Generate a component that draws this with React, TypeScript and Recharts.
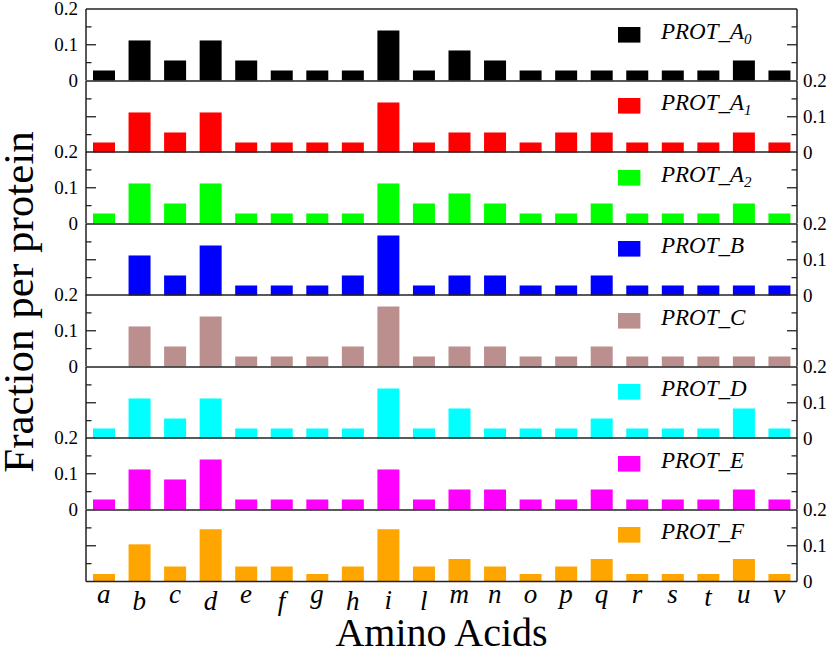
import React from 'react';
import { ComposedChart, Bar, Line, XAxis, YAxis, Legend, ReferenceLine } from 'recharts';

// amino acid categories (x axis)
const aminoAcids = ['a', 'b', 'c', 'd', 'e', 'f', 'g', 'h', 'i', 'l', 'm', 'n', 'o', 'p', 'q', 'r', 's', 't', 'u', 'v'];

// fraction per protein, one list per panel
const protA0 = [0.028, 0.112, 0.056, 0.112, 0.056, 0.028, 0.028, 0.028, 0.14, 0.028, 0.084, 0.056, 0.028, 0.028, 0.028, 0.028, 0.028, 0.028, 0.056, 0.028];
const protA1 = [0.028, 0.112, 0.056, 0.112, 0.028, 0.028, 0.028, 0.028, 0.14, 0.028, 0.056, 0.056, 0.028, 0.056, 0.056, 0.028, 0.028, 0.028, 0.056, 0.028];
const protA2 = [0.028, 0.112, 0.056, 0.112, 0.028, 0.028, 0.028, 0.028, 0.112, 0.056, 0.084, 0.056, 0.028, 0.028, 0.056, 0.028, 0.028, 0.028, 0.056, 0.028];
const protB = [0, 0.112, 0.056, 0.14, 0.028, 0.028, 0.028, 0.056, 0.168, 0.028, 0.056, 0.056, 0.028, 0.028, 0.056, 0.028, 0.028, 0.028, 0.028, 0.028];
const protC = [0, 0.112, 0.056, 0.14, 0.028, 0.028, 0.028, 0.056, 0.168, 0.028, 0.056, 0.056, 0.028, 0.028, 0.056, 0.028, 0.028, 0.028, 0.028, 0.028];
const protD = [0.028, 0.112, 0.056, 0.112, 0.028, 0.028, 0.028, 0.028, 0.14, 0.028, 0.084, 0.028, 0.028, 0.028, 0.056, 0.028, 0.028, 0.028, 0.084, 0.028];
const protE = [0.028, 0.112, 0.084, 0.14, 0.028, 0.028, 0.028, 0.028, 0.112, 0.028, 0.056, 0.056, 0.028, 0.028, 0.056, 0.028, 0.028, 0.028, 0.056, 0.028];
const protF = [0.021, 0.104, 0.042, 0.146, 0.042, 0.042, 0.021, 0.042, 0.146, 0.042, 0.063, 0.042, 0.021, 0.042, 0.063, 0.021, 0.021, 0.021, 0.063, 0.021];

const seriesValues = [protA0, protA1, protA2, protB, protC, protD, protE, protF];
const seriesNames = ['PROT_A', 'PROT_A', 'PROT_A', 'PROT_B', 'PROT_C', 'PROT_D', 'PROT_E', 'PROT_F'];
const seriesSubs = ['0', '1', '2', '', '', '', '', ''];
const seriesColors = ['#000000', '#ff0000', '#00ff00', '#0000ff', '#bc8f8f', '#00ffff', '#ff00ff', '#ffa500'];

const yTicks = [0, 0.05, 0.1, 0.15, 0.2];

const FONT = '"Liberation Serif", "Times New Roman", serif';
const AXIS = '#222';
const PANEL_TOP = 9;
const PANEL_H = 71.5;
const PAD = 12;

const data = aminoAcids.map((aa, i) => {
  const row: Record<string, any> = { aa };
  seriesValues.forEach((vals, k) => {
    row['s' + k] = vals[i];
  });
  return row;
});

function YTick(props: any) {
  const { x, y, payload, side, showLabel } = props;
  const v = payload.value;
  const dir = side === 'left' ? 1 : -1;
  const isLabelTick = Math.abs(v * 10 - Math.round(v * 10)) < 1e-9;
  const len = v === 0 || v === 0.2 ? 0 : isLabelTick ? 10 : 5.5;
  return (
    <g>
      {len > 0 && <line x1={x} x2={x + dir * len} y1={y} y2={y} stroke={AXIS} strokeWidth={1.3} />}
      {showLabel && isLabelTick && (
        <text
          x={side === 'left' ? x - 8 : x + 6}
          y={y}
          dy="0.34em"
          textAnchor={side === 'left' ? 'end' : 'start'}
          style={{ fontFamily: FONT, fontSize: 19 }}
          fill="#000"
        >
          {v === 0 ? '0' : v.toFixed(1)}
        </text>
      )}
    </g>
  );
}

function XTick(props: any) {
  const { x, y, payload } = props;
  const v = payload.value;
  // glyphs are top aligned in the original, so tall letters sit lower
  const drop = 'bdfhl'.includes(v) ? 28 : v === 'i' ? 27 : v === 't' ? 24 : 21;
  return (
    <text x={x} y={y + drop} textAnchor="middle" style={{ fontFamily: FONT, fontStyle: 'italic', fontSize: 27 }} fill="#000">
      {v}
    </text>
  );
}

function LegendBox({ k }: { k: number }) {
  return (
    <svg width={200} height={26} style={{ display: 'block', overflow: 'visible' }}>
      <rect x={0} y={0} width={22.4} height={15.6} fill={seriesColors[k]} />
      <text x={43} y={11.6} style={{ fontFamily: FONT, fontStyle: 'italic', fontSize: 23 }} fill="#000">
        {seriesNames[k]}
        {seriesSubs[k] && (
          <tspan dy={5} style={{ fontSize: 15 }}>
            {seriesSubs[k]}
          </tspan>
        )}
      </text>
    </svg>
  );
}

function Panel({ k }: { k: number }) {
  const last = k === seriesValues.length - 1;
  const labelSide = k % 2 === 0 ? 'left' : 'right';
  const xH = last ? 40 : 0;
  const height = PANEL_H + 2 * PAD + xH;
  const key = 's' + k;
  return (
    <div style={{ position: 'absolute', left: 0, top: PANEL_TOP + PANEL_H * k - PAD }}>
      <ComposedChart width={830} height={height} data={data} margin={{ top: PAD, bottom: PAD, left: 0, right: 0 }}>
        <XAxis
          dataKey="aa"
          height={xH}
          tickLine={false}
          tickSize={0}
          tickMargin={0}
          interval={0}
          axisLine={{ stroke: AXIS, strokeWidth: 1.5 }}
          tick={last ? (p: any) => <XTick {...p} /> : false}
        />
        <YAxis
          yAxisId="L"
          orientation="left"
          width={86}
          domain={[0, 0.2]}
          ticks={yTicks}
          interval={0}
          tickLine={false}
          tickSize={0}
          tickMargin={0}
          axisLine={{ stroke: AXIS, strokeWidth: 1.5 }}
          tick={(p: any) => <YTick {...p} side="left" showLabel={labelSide === 'left'} />}
        />
        <YAxis
          yAxisId="R"
          orientation="right"
          width={33}
          domain={[0, 0.2]}
          ticks={yTicks}
          interval={0}
          tickLine={false}
          tickSize={0}
          tickMargin={0}
          axisLine={{ stroke: AXIS, strokeWidth: 1.5 }}
          tick={(p: any) => <YTick {...p} side="right" showLabel={labelSide === 'right'} />}
        />
        <ReferenceLine yAxisId="L" y={0.2} stroke={AXIS} strokeWidth={1.5} />
        <Bar yAxisId="L" dataKey={key} fill={seriesColors[k]} barSize={22} isAnimationActive={false} />
        {/* invisible series so the mirrored right axis gets its ticks */}
        <Line
          yAxisId="R"
          dataKey={key}
          stroke="none"
          dot={false}
          activeDot={false}
          legendType="none"
          isAnimationActive={false}
        />
        <Legend
          layout="horizontal"
          verticalAlign="middle"
          align="center"
          wrapperStyle={{ left: 618, top: PAD + 17.7, width: 200, height: 26 }}
          content={() => <LegendBox k={k} />}
        />
      </ComposedChart>
    </div>
  );
}

export default function App() {
  return (
    <div style={{ position: 'absolute', left: 0, top: 0, width: 830, height: 651, background: '#fff' }}>
      <svg width={830} height={651} style={{ position: 'absolute', left: 0, top: 0 }}>
        <text
          x={33}
          y={302}
          transform="rotate(-90 33 302)"
          textAnchor="middle"
          style={{ fontFamily: FONT, fontSize: 43 }}
          fill="#000"
        >
          Fraction per protein
        </text>
        <text x={441.5} y={646} textAnchor="middle" style={{ fontFamily: FONT, fontSize: 40 }} fill="#000">
          Amino Acids
        </text>
      </svg>
      {seriesValues.map((_, k) => (
        <Panel key={k} k={k} />
      ))}
    </div>
  );
}
